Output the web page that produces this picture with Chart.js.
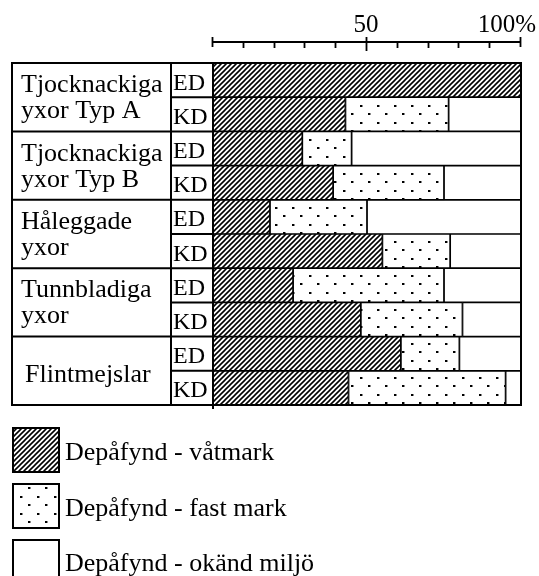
<!DOCTYPE html>
<html><head><meta charset="utf-8">
<script src="https://cdn.jsdelivr.net/npm/chart.js@4.4.1/dist/chart.umd.min.js"></script>
<style>html,body{margin:0;padding:0;background:#fff;}#wrap{width:539px;height:576px;position:relative;}</style>
</head><body><div id="wrap"><canvas id="c" width="539" height="576"></canvas></div>
<script>
// ---- data ----
const rowLabels = ['ED','KD','ED','KD','ED','KD','ED','KD','ED','KD'];
const groupLabels = [['Tjocknackiga','yxor Typ A'],['Tjocknackiga','yxor Typ B'],['Håleggade','yxor'],['Tunnbladiga','yxor'],['Flintmejslar']];
const seriesNames = ['Depåfynd - våtmark','Depåfynd - fast mark','Depåfynd - okänd miljö'];
const wetland     = [100, 43, 29, 39, 18.5, 55, 26, 48, 61, 44];
const solidGround = [0, 33.5, 16, 36, 31.5, 22, 49, 33, 19, 51];
const unknownEnv  = [0, 23.5, 55, 25, 50, 23, 25, 19, 20, 5];
const tickValues = [0,10,20,30,40,50,60,70,80,90,100];
const labeledTicks = [50,100];
const labeledTickTexts = ['50','100%'];

const SERIF = "'Liberation Serif','Times New Roman',serif";

function hatchPattern(){
  const s=5, c=document.createElement('canvas'); c.width=s; c.height=s;
  const x=c.getContext('2d'); x.fillStyle='#fff'; x.fillRect(0,0,s,s);
  x.strokeStyle='#000'; x.lineWidth=1.6; x.lineCap='square';
  x.beginPath();
  x.moveTo(0,s); x.lineTo(s,0);
  x.moveTo(-1,1); x.lineTo(1,-1);
  x.moveTo(s-1,s+1); x.lineTo(s+1,s-1);
  x.stroke();
  return x.createPattern(c,'repeat');
}
function dotPattern(){
  const s=17, c=document.createElement('canvas'); c.width=s; c.height=s;
  const x=c.getContext('2d'); x.fillStyle='#fff'; x.fillRect(0,0,s,s);
  x.fillStyle='#000';
  x.fillRect(3,3,2,2); x.fillRect(11,11,2,2);
  x.fillStyle='rgba(0,0,0,0.45)';
  x.fillRect(5,3,1,2); x.fillRect(13,11,1,2);
  return x.createPattern(c,'repeat');
}
const fills=[hatchPattern(), dotPattern(), '#ffffff'];

const decor = {
  id:'decor',
  afterDatasetsDraw(chart){
    const ctx=chart.ctx, xs=chart.scales.x, ys=chart.scales.y, ca=chart.chartArea;
    const L=12, C1=171, C2=xs.getPixelForValue(0), R=xs.getPixelForValue(100);
    const top=ca.top, bot=ca.bottom;
    const n=rowLabels.length;
    const bnd=i=> i<=0?top:(i>=n?bot:(ys.getPixelForValue(i-1)+ys.getPixelForValue(i))/2);
    ctx.save();
    ctx.strokeStyle='#000'; ctx.lineWidth=2;
    // outer frame
    ctx.strokeRect(L,top,R-L,bot-top);
    ctx.beginPath();
    ctx.moveTo(C1,top); ctx.lineTo(C1,bot);
    ctx.moveTo(C2,top); ctx.lineTo(C2,bot+4);
    for(let i=1;i<n;i++){
      const y=bnd(i);
      if(i%2===0){ ctx.moveTo(L,y); ctx.lineTo(C2,y);} else { ctx.moveTo(C1,y); ctx.lineTo(C2,y);}
    }
    ctx.stroke();
    // row labels
    ctx.fillStyle='#000'; ctx.textBaseline='alphabetic'; ctx.textAlign='left';
    ctx.font='24px '+SERIF;
    for(let i=0;i<n;i++){
      ctx.fillText(rowLabels[i], C1+2, ys.getPixelForValue(i)+9.5);
    }
    // group labels
    ctx.font='26px '+SERIF;
    groupLabels.forEach((g,gi)=>{
      const c=(bnd(2*gi)+bnd(2*gi+2))/2;
      if(g.length===1){ ctx.fillText(g[0], 25, c+11.5); }
      else { ctx.fillText(g[0], 21, c-5); ctx.fillText(g[1], 21, c+21); }
    });
    // top axis
    const ay=42;
    ctx.lineWidth=2;
    ctx.beginPath(); ctx.moveTo(xs.getPixelForValue(0),ay); ctx.lineTo(xs.getPixelForValue(100),ay); ctx.stroke();
    ctx.lineWidth=1.8;
    ctx.beginPath();
    tickValues.forEach(v=>{
      const px=Math.round(xs.getPixelForValue(v))-0.5;
      if(v===0||v===100){ ctx.moveTo(px,37); ctx.lineTo(px,47); }
      else if(v===50){ ctx.moveTo(px,37); ctx.lineTo(px,51); }
      else { ctx.moveTo(px,42); ctx.lineTo(px,48); }
    });
    ctx.stroke();
    ctx.font='25px '+SERIF;
    labeledTicks.forEach((v,i)=>{
      const px=xs.getPixelForValue(v);
      if(v===100){ ctx.textAlign='right'; ctx.fillText(labeledTickTexts[i], px+15, 32); }
      else { ctx.textAlign='center'; ctx.fillText(labeledTickTexts[i], px-1, 32); }
    });
    // legend
    ctx.textAlign='left'; ctx.font='26px '+SERIF;
    chart.data.datasets.forEach((ds,i)=>{
      const bx=13, by=428+56*i, bw=46, bh=44;
      ctx.fillStyle=ds.backgroundColor; ctx.fillRect(bx,by,bw,bh);
      ctx.lineWidth=2; ctx.strokeStyle='#000'; ctx.strokeRect(bx,by,bw,bh);
      ctx.fillStyle='#000';
      ctx.fillText(ds.label, 65, 460+55.5*i);
    });
    ctx.restore();
  }
};

new Chart(document.getElementById('c'), {
  type:'bar',
  data:{
    labels: rowLabels,
    datasets:[
      {label:seriesNames[0], data:wetland, backgroundColor:fills[0]},
      {label:seriesNames[1], data:solidGround, backgroundColor:fills[1]},
      {label:seriesNames[2], data:unknownEnv, backgroundColor:fills[2]}
    ].map(d=>Object.assign(d,{borderColor:'#000', borderWidth:1.2, borderSkipped:false, barPercentage:1, categoryPercentage:1}))
  },
  options:{
    indexAxis:'y', responsive:false, animation:false, devicePixelRatio:1,
    layout:{padding:{left:213, right:18, top:63, bottom:171}},
    plugins:{legend:{display:false}, tooltip:{enabled:false}},
    scales:{
      x:{stacked:true, min:0, max:100, display:false},
      y:{stacked:true, display:false}
    }
  },
  plugins:[decor]
});
</script></body></html>
